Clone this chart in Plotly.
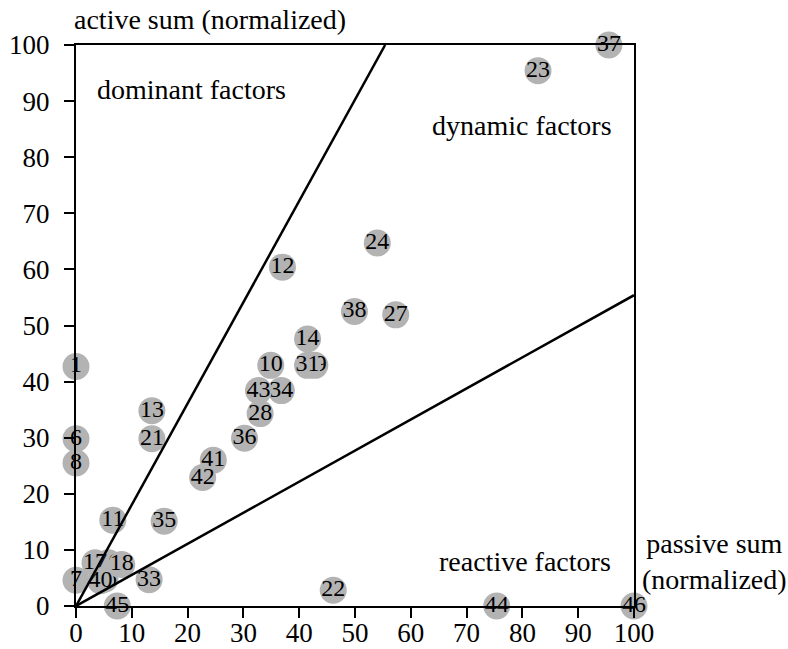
import plotly.graph_objects as go

# ---- data ----
labels = ["1", "6", "7", "8", "10", "11", "12", "13", "14", "15", "16", "17", "18",
          "21", "22", "23", "24", "27", "28", "29", "31", "33", "34", "35", "36",
          "37", "38", "40", "41", "42", "43", "44", "45", "46"]
passive = [0, 0, 0, 0, 34.9, 6.6, 37.0, 13.6, 41.5, 5.2, 5.8, 3.4, 8.2,
           13.6, 46.1, 82.8, 54.0, 57.3, 33.0, 42.8, 41.5, 13.1, 36.8, 15.8, 30.2,
           95.5, 49.9, 4.4, 24.6, 22.7, 32.7, 75.4, 7.4, 100]
active = [42.7, 29.8, 4.6, 25.5, 42.9, 15.3, 60.4, 34.8, 47.6, 4.8, 7.7, 7.7, 7.4,
          29.8, 2.8, 95.4, 64.7, 51.9, 34.3, 42.9, 42.9, 4.7, 38.4, 15.1, 29.9,
          100, 52.5, 4.5, 26.0, 22.9, 38.4, 0, 0, 0]

dominant_line_x = [0, 55.4]
dominant_line_y = [0, 100]
reactive_line_x = [0, 100]
reactive_line_y = [0, 55.4]

tick_values = list(range(0, 101, 10))

FONT = "Liberation Serif, Times New Roman, serif"

fig = go.Figure()

# one trace per point so later circles cover earlier labels
for lab, x, y in zip(labels, passive, active):
    fig.add_trace(go.Scatter(
        x=[x], y=[y], mode="markers+text", text=[lab],
        textposition="middle center",
        marker=dict(size=27, color="#b3b3b3", line=dict(width=0)),
        textfont=dict(family=FONT, size=24, color="black"),
        cliponaxis=False, showlegend=False, hoverinfo="skip"))

for lx, ly in [(dominant_line_x, dominant_line_y), (reactive_line_x, reactive_line_y)]:
    fig.add_trace(go.Scatter(
        x=lx, y=ly, mode="lines", line=dict(color="black", width=2.5),
        cliponaxis=False, showlegend=False, hoverinfo="skip"))

axis_common = dict(
    range=[0, 100], tickvals=tick_values, ticks="outside", ticklen=10, tickwidth=2,
    tickcolor="black", showline=True, linewidth=2, linecolor="black", mirror=True,
    showgrid=False, zeroline=False, automargin=False,
    tickfont=dict(family=FONT, size=27, color="black"))

fig.update_xaxes(**axis_common, ticklabelstandoff=-8)
fig.update_yaxes(**axis_common, ticklabelstandoff=9)

ann_font = dict(family=FONT, size=28, color="black")
annotations = [
    dict(text="active sum (normalized)", xref="paper", yref="paper",
         x=-0.007, y=1.045, xanchor="left", yanchor="middle"),
    dict(text="passive sum<br>(normalized)", xref="paper", yref="paper",
         x=1.145, y=0.080, xanchor="center", yanchor="middle", align="center"),
    dict(text="dominant factors", xref="x", yref="y", x=3.4, y=92.1,
         xanchor="left", yanchor="middle"),
    dict(text="dynamic factors", xref="x", yref="y", x=63.4, y=85.6,
         xanchor="left", yanchor="middle"),
    dict(text="reactive factors", xref="x", yref="y", x=64.7, y=8.0,
         xanchor="left", yanchor="middle"),
]
for a in annotations:
    a.update(showarrow=False, font=ann_font)

fig.update_layout(
    width=788, height=649,
    margin=dict(l=76, r=154, t=45, b=43),
    paper_bgcolor="white", plot_bgcolor="white",
    annotations=annotations,
)

# remove the default 8px page margin so the figure fills the window exactly
fig.write_html(
    "out.html",
    config={"displayModeBar": False},
    post_script="document.body.style.margin='0';document.body.style.overflow='hidden';",
)
